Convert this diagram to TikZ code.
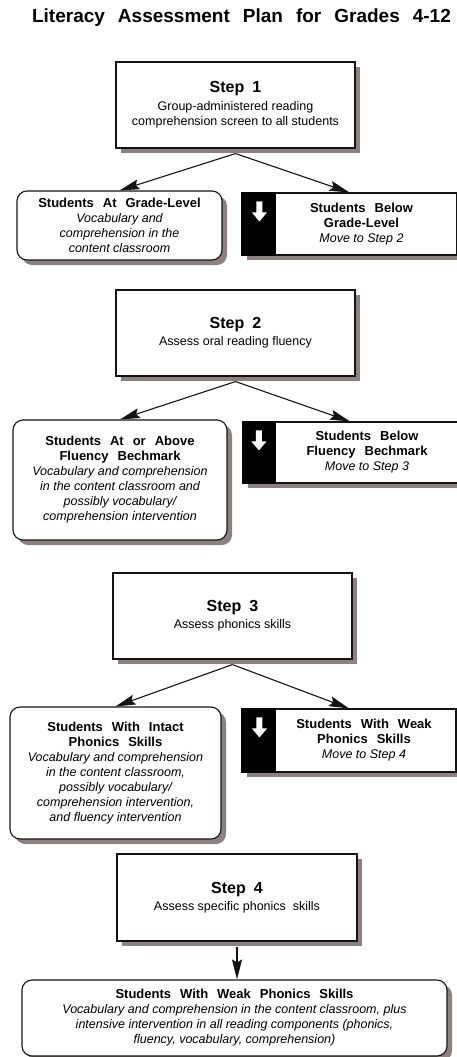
\documentclass[tikz,border=0pt]{standalone}
\usepackage{fontspec}
\setmainfont{Liberation Sans}
\usetikzlibrary{arrows.meta,calc}
\definecolor{shd}{RGB}{140,128,128}
\definecolor{edge}{RGB}{20,20,20}
\newcommand\ttl{\fontsize{19}{21}\selectfont\bfseries\spaceskip=13pt\relax}
\newcommand\hd{\fontsize{13}{15}\selectfont\bfseries\spaceskip=9pt\relax}
\newcommand\stp{\fontsize{16}{18}\selectfont\bfseries\spaceskip=8pt\relax}
\newcommand\whitedown[1]{%
  \fill[white] ($(#1)+(-3,0)$) -- ($(#1)+(3,0)$) -- ($(#1)+(3,11)$) -- ($(#1)+(7.5,11)$)
    -- ($(#1)+(0,20)$) -- ($(#1)+(-7.5,11)$) -- ($(#1)+(-3,11)$) -- cycle;}
\begin{document}
\begin{tikzpicture}[x=1pt,y=-1pt,
  box/.style={draw=edge, line width=1.1pt, fill=white,
    inner sep=0pt, align=center, font=\fontsize{12.5}{15}\selectfont},
  shdw/.style={fill=shd, draw=none, inner sep=0pt, xshift=5pt, yshift=-5pt},
  stepsize/.style={minimum width=239pt, minimum height=86pt},
  stepbox/.style={box, stepsize},
  outbox/.style={box, rounded corners=10pt},
  movebox/.style={box, minimum width=215pt},
  movetext/.style={inner sep=0pt, align=center, font=\fontsize{12.5}{15}\selectfont},
  arr/.style={line width=1.1pt, draw=edge, -{Stealth[length=20pt,width=10pt,inset=3pt]}},
  blk/.style={fill=black}
]
\useasboundingbox (0,0) rectangle (457,1057);

\node[inner sep=0pt] (title) at (241.5,18) {\ttl Literacy Assessment Plan for Grades 4-12};

% Step 1
\node[shdw, stepsize] (s1s) at (235.5,105) {};
\node[stepbox] (s1) at (235.5,105) {{\stp Step 1}\\[3pt]Group-administered reading\\comprehension screen to all students};
\node[shdw, rounded corners=10pt, minimum width=205pt, minimum height=69pt] (l1s) at (119.5,225.5) {};
\node[outbox, minimum width=205pt, minimum height=69pt] (l1) at (119.5,225.5)
  {{\hd Students At Grade-Level}\\\itshape Vocabulary and\\\itshape comprehension in the\\\itshape content classroom};
\node[shdw, minimum width=215pt, minimum height=62pt] (r1s) at (349.5,224) {};
\node[movebox, minimum height=62pt] (r1) at (349.5,224) {};
\fill[blk] (r1.north west) rectangle ([xshift=35pt]r1.south west);
\coordinate (a1) at ([xshift=18pt,yshift=-9pt]r1.north west);
\whitedown{a1}
\node[movetext] (t1) at ([xshift=12pt]r1.center) {{\hd Students Below}\\{\hd Grade-Level}\\\itshape Move to Step 2};
\draw[arr] ([yshift=-5pt]s1.south) -- (l1.north);
\draw[arr] ([yshift=-5pt]s1.south) -- (r1.north);

% Step 2
\node[shdw, stepsize] (s2s) at (235.5,333) {};
\node[stepbox] (s2) at (235.5,333) {{\stp Step 2}\\[2pt]Assess oral reading fluency};
\node[shdw, rounded corners=10pt, minimum width=214pt, minimum height=120pt] (l2s) at (120,480) {};
\node[outbox, minimum width=214pt, minimum height=120pt] (l2) at (120,480)
  {{\hd Students At or Above}\\{\hd Fluency Bechmark}\\\itshape Vocabulary and comprehension\\\itshape in the content classroom and\\\itshape possibly vocabulary/\\\itshape comprehension intervention};
\node[shdw, minimum width=215pt, minimum height=61pt] (r2s) at (350,452.5) {};
\node[movebox, minimum height=61pt] (r2) at (350,452.5) {};
\fill[blk] (r2.north west) rectangle ([xshift=34pt]r2.south west);
\coordinate (a2) at ([xshift=17pt,yshift=-9pt]r2.north west);
\whitedown{a2}
\node[movetext] (t2) at ([xshift=17pt]r2.center) {{\hd Students Below}\\{\hd Fluency Bechmark}\\\itshape Move to Step 3};
\draw[arr] ([yshift=-5pt]s2.south) -- (l2.north);
\draw[arr] ([yshift=-5pt]s2.south) -- (r2.north);

% Step 3
\node[shdw, stepsize] (s3s) at (232.5,616) {};
\node[stepbox] (s3) at (232.5,616) {{\stp Step 3}\\[2pt]Assess phonics skills};
\node[shdw, rounded corners=10pt, minimum width=211pt, minimum height=132pt] (l3s) at (115.5,773) {};
\node[outbox, minimum width=211pt, minimum height=132pt] (l3) at (115.5,773)
  {{\hd Students With Intact}\\{\hd Phonics Skills}\\\itshape Vocabulary and comprehension\\\itshape in the content classroom,\\\itshape possibly vocabulary/\\\itshape comprehension intervention,\\\itshape and fluency intervention};
\node[shdw, minimum width=214pt, minimum height=63pt] (r3s) at (349,740.5) {};
\node[movebox, minimum width=214pt, minimum height=63pt] (r3) at (349,740.5) {};
\fill[blk] (r3.north west) rectangle ([xshift=35pt]r3.south west);
\coordinate (a3) at ([xshift=18pt,yshift=-9pt]r3.north west);
\whitedown{a3}
\node[movetext] (t3) at ([xshift=15pt]r3.center) {{\hd Students With Weak}\\{\hd Phonics Skills}\\\itshape Move to Step 4};
\draw[arr] ([yshift=-5pt]s3.south) -- (l3.north);
\draw[arr] ([yshift=-5pt]s3.south) -- (r3.north);

% Step 4
\node[shdw, minimum width=240pt, minimum height=87pt] (s4s) at (237,897.5) {};
\node[stepbox, minimum width=240pt, minimum height=87pt] (s4) at (237,897.5) {{\stp Step 4}\\[2pt]Assess specific phonics\ \ skills};
\node[shdw, rounded corners=10pt, minimum width=425pt, minimum height=76pt] (bs) at (234.5,1018) {};
\node[outbox, minimum width=425pt, minimum height=76pt] (b) at (234.5,1018)
  {{\hd Students With Weak Phonics Skills}\\\itshape Vocabulary and comprehension in the content classroom, plus\\\itshape intensive intervention in all reading components (phonics,\\\itshape fluency, vocabulary, comprehension)};
\draw[arr] ([yshift=-5pt]s4.south) -- (s4.south |- b.north);
\end{tikzpicture}
\end{document}
